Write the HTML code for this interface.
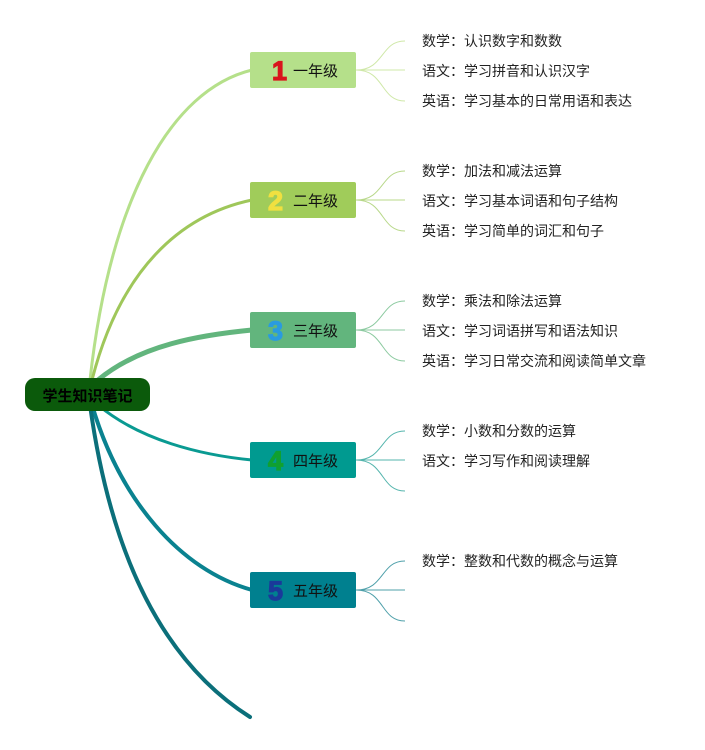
<!DOCTYPE html>
<html><head><meta charset="utf-8"><style>
body{margin:0;background:#fff;}
svg text{font-family:"Liberation Sans","Noto Sans CJK SC",sans-serif;}
</style></head><body>
<svg width="705" height="745" viewBox="0 0 705 745" xmlns="http://www.w3.org/2000/svg">
<g fill="none" stroke-linecap="round">
<path d="M90 380 C 110 200, 170 90, 252 70" stroke="#b5e08a" stroke-width="3"/>
<path d="M92 380 C 120 270, 180 215, 252 200" stroke="#9fc75a" stroke-width="3"/>
<path d="M98 380 C 140 345, 200 335, 252 330" stroke="#62b57d" stroke-width="5"/>
<path d="M98 405 C 140 440, 200 455, 252 460" stroke="#0a9a92" stroke-width="3"/>
<path d="M92 405 C 120 500, 180 570, 252 590" stroke="#0a8290" stroke-width="4"/>
<path d="M90 405 C 110 550, 160 660, 250 717" stroke="#0b6f7a" stroke-width="4"/>
</g>
<g fill="none" stroke-width="1">
<g stroke="#cfe8a8"><path d="M356 70 C 385 70,380 41,405 41 M356 70 H405 M356 70 C 385 70,380 101,405 101"/></g>
<g stroke="#b8d88a"><path d="M356 200 C 385 200,380 171,405 171 M356 200 H405 M356 200 C 385 200,380 231,405 231"/></g>
<g stroke="#8ccaa0"><path d="M356 330 C 385 330,380 301,405 301 M356 330 H405 M356 330 C 385 330,380 361,405 361"/></g>
<g stroke="#55b5ad"><path d="M356 460 C 385 460,380 431,405 431 M356 460 H405 M356 460 C 385 460,380 491,405 491"/></g>
<g stroke="#4fa0aa"><path d="M356 590 C 385 590,380 561,405 561 M356 590 H405 M356 590 C 385 590,380 621,405 621"/></g>
</g>
<rect x="25" y="378" width="125" height="33" rx="10" fill="#0b5a0b"/>
<text x="87.5" y="401" font-size="15" font-weight="bold" text-anchor="middle" fill="#000">学生知识笔记</text>
<g font-size="15">
<rect x="250" y="52" width="106" height="36" rx="2" fill="#b5e08a"/>
<text x="272" y="80" font-size="27" font-weight="bold" fill="#d9141c" stroke="#d9141c" stroke-width="1.2">1</text><text x="293" y="76" fill="#111">一年级</text>
<rect x="250" y="182" width="106" height="36" rx="2" fill="#a0cc5a"/>
<text x="268" y="210" font-size="27" font-weight="bold" fill="#f0e040" stroke="#f0e040" stroke-width="1.2">2</text><text x="293" y="206" fill="#111">二年级</text>
<rect x="250" y="312" width="106" height="36" rx="2" fill="#62b57d"/>
<text x="268" y="340" font-size="27" font-weight="bold" fill="#2a9be0" stroke="#2a9be0" stroke-width="1.2">3</text><text x="293" y="336" fill="#111">三年级</text>
<rect x="250" y="442" width="106" height="36" rx="2" fill="#009a90"/>
<text x="268" y="470" font-size="27" font-weight="bold" fill="#10a030" stroke="#10a030" stroke-width="1.2">4</text><text x="293" y="466" fill="#111">四年级</text>
<rect x="250" y="572" width="106" height="36" rx="2" fill="#00808f"/>
<text x="268" y="600" font-size="27" font-weight="bold" fill="#1a3a9a" stroke="#1a3a9a" stroke-width="1.2">5</text><text x="293" y="596" fill="#111">五年级</text>
</g>
<g font-size="14" fill="#222">
<text x="422" y="46">数学：认识数字和数数</text>
<text x="422" y="76">语文：学习拼音和认识汉字</text>
<text x="422" y="106">英语：学习基本的日常用语和表达</text>
<text x="422" y="176">数学：加法和减法运算</text>
<text x="422" y="206">语文：学习基本词语和句子结构</text>
<text x="422" y="236">英语：学习简单的词汇和句子</text>
<text x="422" y="306">数学：乘法和除法运算</text>
<text x="422" y="336">语文：学习词语拼写和语法知识</text>
<text x="422" y="366">英语：学习日常交流和阅读简单文章</text>
<text x="422" y="436">数学：小数和分数的运算</text>
<text x="422" y="466">语文：学习写作和阅读理解</text>
<text x="422" y="566">数学：整数和代数的概念与运算</text>
</g>
</svg>
</body></html>
